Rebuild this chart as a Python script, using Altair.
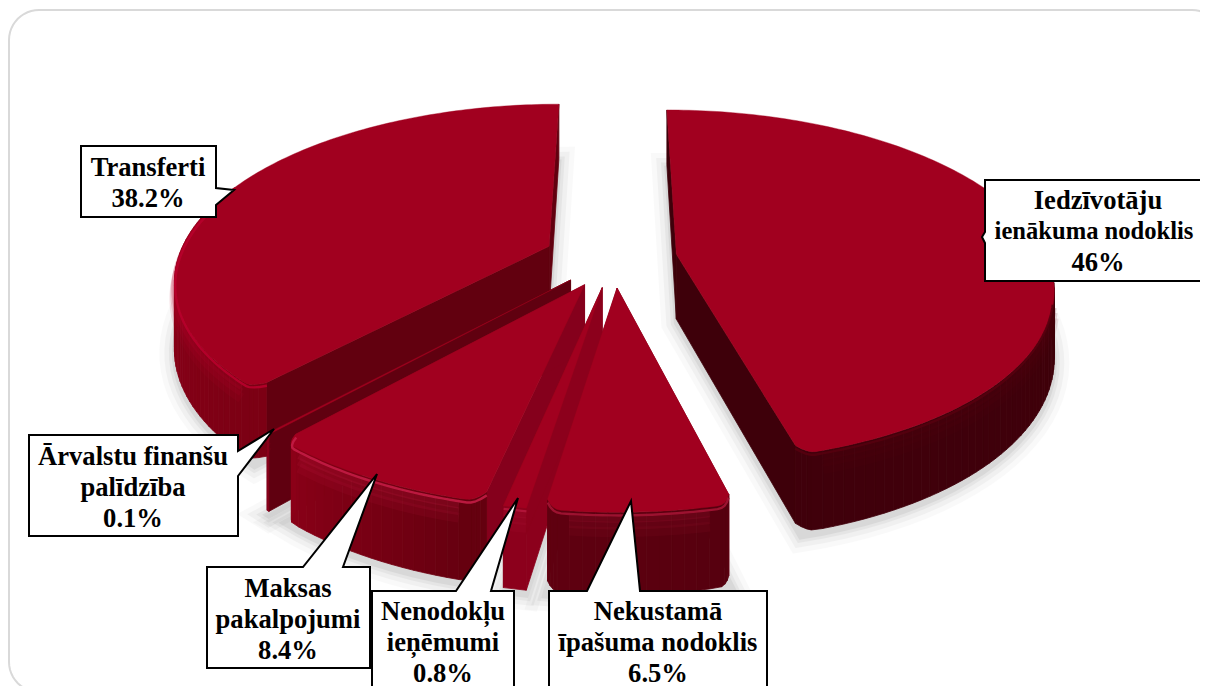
import math
import altair as alt

# ---- chart values (clockwise from 12 o'clock)
categories = ["Iedzīvotāju ienākuma nodoklis", "Nekustamā īpašuma nodoklis", "Nenodokļu ieņēmumi",
              "Maksas pakalpojumi", "Ārvalstu finanšu palīdzība", "Transferti"]
shares = [46, 6.5, 0.8, 8.4, 0.1, 38.2]
value_labels = ["46%", "6.5%", "0.8%", "8.4%", "0.1%", "38.2%"]
label_lines = [["Iedzīvotāju", "ienākuma nodoklis"], ["Nekustamā", "īpašuma nodoklis"], ["Nenodokļu", "ieņēmumi"],
               ["Maksas", "pakalpojumi"], ["Ārvalstu finanšu", "palīdzība"], ["Transferti"]]
explode = [0.17, 0.17, 0.17, 0.17, 0.17, 0.19]

# ---- 3D view of the pie (page pixels)
CX, CY, RX, RY, PERSP, DEPTH = 614, 258, 371, 171.6, 0.18, 65
TOP = "#a1001f"
# wall colour at start / end of visible arc, cut face colour, rim highlight, highlight range
look = [
    dict(a="#3e000a", b="#40000b", cut="#3e000a", rim="#56000f", lo=105, hi=166),
    dict(a="#56000f", b="#600010", cut="#8c001c", rim="#a41434", lo=0, hi=360),
    dict(a="#8c001c", b="#8c001c", cut="#8c001c", rim="#b5173c", lo=0, hi=360),
    dict(a="#64000f", b="#8c0018", cut="#85001c", rim="#c41c45", lo=0, hi=360),
    dict(a="#8a001c", b="#8a001c", cut="#600010", rim="#a80024", lo=0, hi=360),
    dict(a="#7c0014", b="#92001a", cut="#62000f", rim="#b8002c", lo=222, hi=282),
]
draw_order = [5, 0, 4, 3, 2, 1]

# ---- callout layout (page pixels): box, pointer base and tip, text centre, first line y
callouts = [
    dict(i=5, box=(81, 146, 216, 217), side="r", base=(188, 205), tip=(234, 190), cx=148, y0=168),
    dict(i=0, box=(985, 180, 1240, 281), side="l", base=(232, 243), tip=(982, 237), cx=1098, y0=201),
    dict(i=4, box=(29, 435, 238, 536), side="r", base=(451, 476), tip=(274, 429), cx=133, y0=457),
    dict(i=3, box=(207, 567, 370, 668), side="t", base=(303, 343), tip=(377, 474), cx=288, y0=589),
    dict(i=2, box=(372, 591, 514, 710), side="t", base=(456, 491), tip=(518, 498), cx=443, y0=612),
    dict(i=1, box=(549, 591, 767, 710), side="t", base=(587, 640), tip=(631, 501), cx=658, y0=612),
]
LINE_H = 31
FONT_SIZE = 26.6
FITTED_LINE = {"ienākuma nodoklis": (24.6, 1094)}  # the only line that must fit the picture's right edge
FRAME = (9, 10, 1222, 692, 30)


def hex2(c):
    return [int(c[k:k + 2], 16) for k in (1, 3, 5)]


def mix(c1, c2, t):
    a, b = hex2(c1), hex2(c2)
    return "#%02x%02x%02x" % tuple(round(a[k] + (b[k] - a[k]) * t) for k in range(3))


def pt(deg, radius, ex_deg, ex, z=0.0):
    """disc point -> page pixel -> chart pixel"""
    X = radius * math.sin(math.radians(deg)) + ex * math.sin(math.radians(ex_deg))
    Y = radius * math.cos(math.radians(deg)) + ex * math.cos(math.radians(ex_deg))
    w = 1 + PERSP * Y
    return [CX + RX * X / w - 8, CY - RY * Y / w + DEPTH * z / w - 8]


def poly(points, fill, stroke=None, sw=0.8, op=1.0):
    ring = [[round(p[0], 2), round(p[1], 2)] for p in points]
    ring.append(ring[0])
    return {"type": "Feature", "geometry": {"type": "Polygon", "coordinates": [ring]},
            "properties": {"fill": fill, "stroke": stroke or fill, "sw": sw, "op": op}}


def line(points, stroke, sw, op=1.0):
    pts = [[round(p[0], 2), round(p[1], 2)] for p in points]
    return {"type": "Feature", "geometry": {"type": "LineString", "coordinates": pts},
            "properties": {"fill": "transparent", "stroke": stroke, "sw": sw, "op": op}}


def angles(a, b, step=1.5):
    n = max(2, int((b - a) / step) + 1)
    return [a + (b - a) * k / (n - 1) for k in range(n)]


def edge_radius(t, a, b):
    """rounds the front corners of the wider slices; the back corners stay sharp"""
    if b - a < 20 or t < 90 or t > 270:
        return 1.0
    d = min(t - a, b - t)
    return 1 - 0.035 * (1 - min(1.0, d / 2.0)) ** 2


def fine_angles(a, b, step=1.5):
    extra = [a + 0.5, a + 1, a + 1.5, b - 1.5, b - 1, b - 0.5] if b - a >= 20 else []
    return sorted(set(angles(a, b, step) + extra))


features = []

# card frame
x0, y0, x1, y1, r = FRAME
corners = [(x1 - r, y0 + r, -90), (x1 - r, y1 - r, 0), (x0 + r, y1 - r, 90), (x0 + r, y0 + r, 180)]
frame_pts = []
for cx, cy, st in corners:
    for k in range(13):
        t = math.radians(st + 90 * k / 12)
        frame_pts.append([cx + r * math.cos(t) - 8, cy + r * math.sin(t) - 8])
features.append(poly(frame_pts, "#ffffff", "#d9d9d9", 2))

# slice spans
spans, acc = [], 0.0
for s in shares:
    spans.append((acc * 3.6, (acc + s) * 3.6))
    acc += s

# soft ground shadow
for i in draw_order:
    a, b = spans[i]
    ex_deg = (a + b) / 2
    ground = [pt(0, 0, ex_deg, explode[i], 1.06)] + [pt(t, 1, ex_deg, explode[i], 1.06) for t in angles(a, b, 3)]
    for width, op in ((30, 0.018), (20, 0.03), (11, 0.04), (5, 0.05)):
        features.append(poly(ground, "#000000", "#000000", width, op))

# slices, back to front
for i in draw_order:
    a, b = spans[i]
    ex_deg, ex, st = (a + b) / 2, explode[i], look[i]
    # cut faces first: hidden ones end up below the outer wall
    for t in (a, b):
        rad = edge_radius(t, a, b)
        features.append(poly([pt(0, 0, ex_deg, ex), pt(t, rad, ex_deg, ex),
                              pt(t, rad, ex_deg, ex, 1), pt(0, 0, ex_deg, ex, 1)], st["cut"]))
    # outer wall, one strip per step
    arc = [t for t in fine_angles(a, b) if 80 <= t <= 292]
    if len(arc) < 2:
        arc = [a, b]
    for j in range(len(arc) - 1):
        u = (arc[j] - arc[0]) / max(arc[-1] - arc[0], 1e-6)
        r0, r1 = edge_radius(arc[j], a, b), edge_radius(arc[j + 1], a, b)
        features.append(poly([pt(arc[j], r0, ex_deg, ex), pt(arc[j + 1], r1, ex_deg, ex),
                              pt(arc[j + 1], r1, ex_deg, ex, 1), pt(arc[j], r0, ex_deg, ex, 1)],
                             mix(st["a"], st["b"], u)))
    rim = [t for t in fine_angles(a, b, 1) if st["lo"] <= t <= st["hi"] and 80 <= t <= 290]
    # top of the wall fades up into the bevel (kept inside the slice's corners)
    inner = [t for t in rim if t - a > 2.2 and b - t > 2.2] if b - a >= 20 else rim
    if len(inner) > 1:
        for z, width, op in ((0.24, 10, 0.10), (0.16, 8, 0.14), (0.09, 6, 0.2)):
            features.append(line([pt(t, 1, ex_deg, ex, z) for t in inner], st["rim"], width, op))
    # top face
    features.append(poly([pt(0, 0, ex_deg, ex)] + [pt(t, edge_radius(t, a, b), ex_deg, ex) for t in fine_angles(a, b, 1)],
                         TOP, TOP, 0.4))
    # bevel highlight
    if len(rim) > 1:
        features.append(line([pt(t, edge_radius(t, a, b) - 0.002, ex_deg, ex, 0.045) for t in rim], st["rim"], 2.4, 0.9))

# callouts
for c in callouts:
    l, t, rr, bt = c["box"]
    tip, b0, b1 = c["tip"], c["base"][0], c["base"][1]
    if c["side"] == "r":
        pts = [(l, t), (rr, t), (rr, b0), tip, (rr, b1), (rr, bt), (l, bt)]
    elif c["side"] == "l":
        pts = [(l, t), (rr, t), (rr, bt), (l, bt), (l, b1), tip, (l, b0)]
    else:
        pts = [(l, t), (b0, t), tip, (b1, t), (rr, t), (rr, bt), (l, bt)]
    features.append(poly([[p[0] - 8, p[1] - 8] for p in pts], "#ffffff", "#000000", 2))

text_rows = []
for c in callouts:
    lines = label_lines[c["i"]] + [value_labels[c["i"]]]
    for n, s in enumerate(lines):
        size, centre = FITTED_LINE.get(s, (FONT_SIZE, c["cx"]))
        text_rows.append({"lon": centre - 8, "lat": c["y0"] + n * LINE_H - 8, "t": s, "size": size})

shapes = alt.Chart(alt.Data(values=features)).mark_geoshape().encode(
    fill=alt.Fill("properties.fill:N", scale=None),
    stroke=alt.Stroke("properties.stroke:N", scale=None),
    strokeWidth=alt.StrokeWidth("properties.sw:Q", scale=None),
    opacity=alt.Opacity("properties.op:Q", scale=None),
)
labels = alt.Chart(alt.Data(values=text_rows)).mark_text(
    font="Liberation Serif", fontWeight="bold", color="#000000", align="center", baseline="middle"
).encode(longitude="lon:Q", latitude="lat:Q", text="t:N", size=alt.Size("size:Q", scale=None))

chart = alt.layer(shapes, labels).project(type="identity", scale=1, translate=[0, 0]).properties(
    width=1192, height=678, padding=0, autosize=alt.AutoSizeParams(type="none"),
).configure_view(stroke=None).configure(background="#ffffff")

chart.save("out.html", embed_options={"renderer": "svg", "actions": False})
